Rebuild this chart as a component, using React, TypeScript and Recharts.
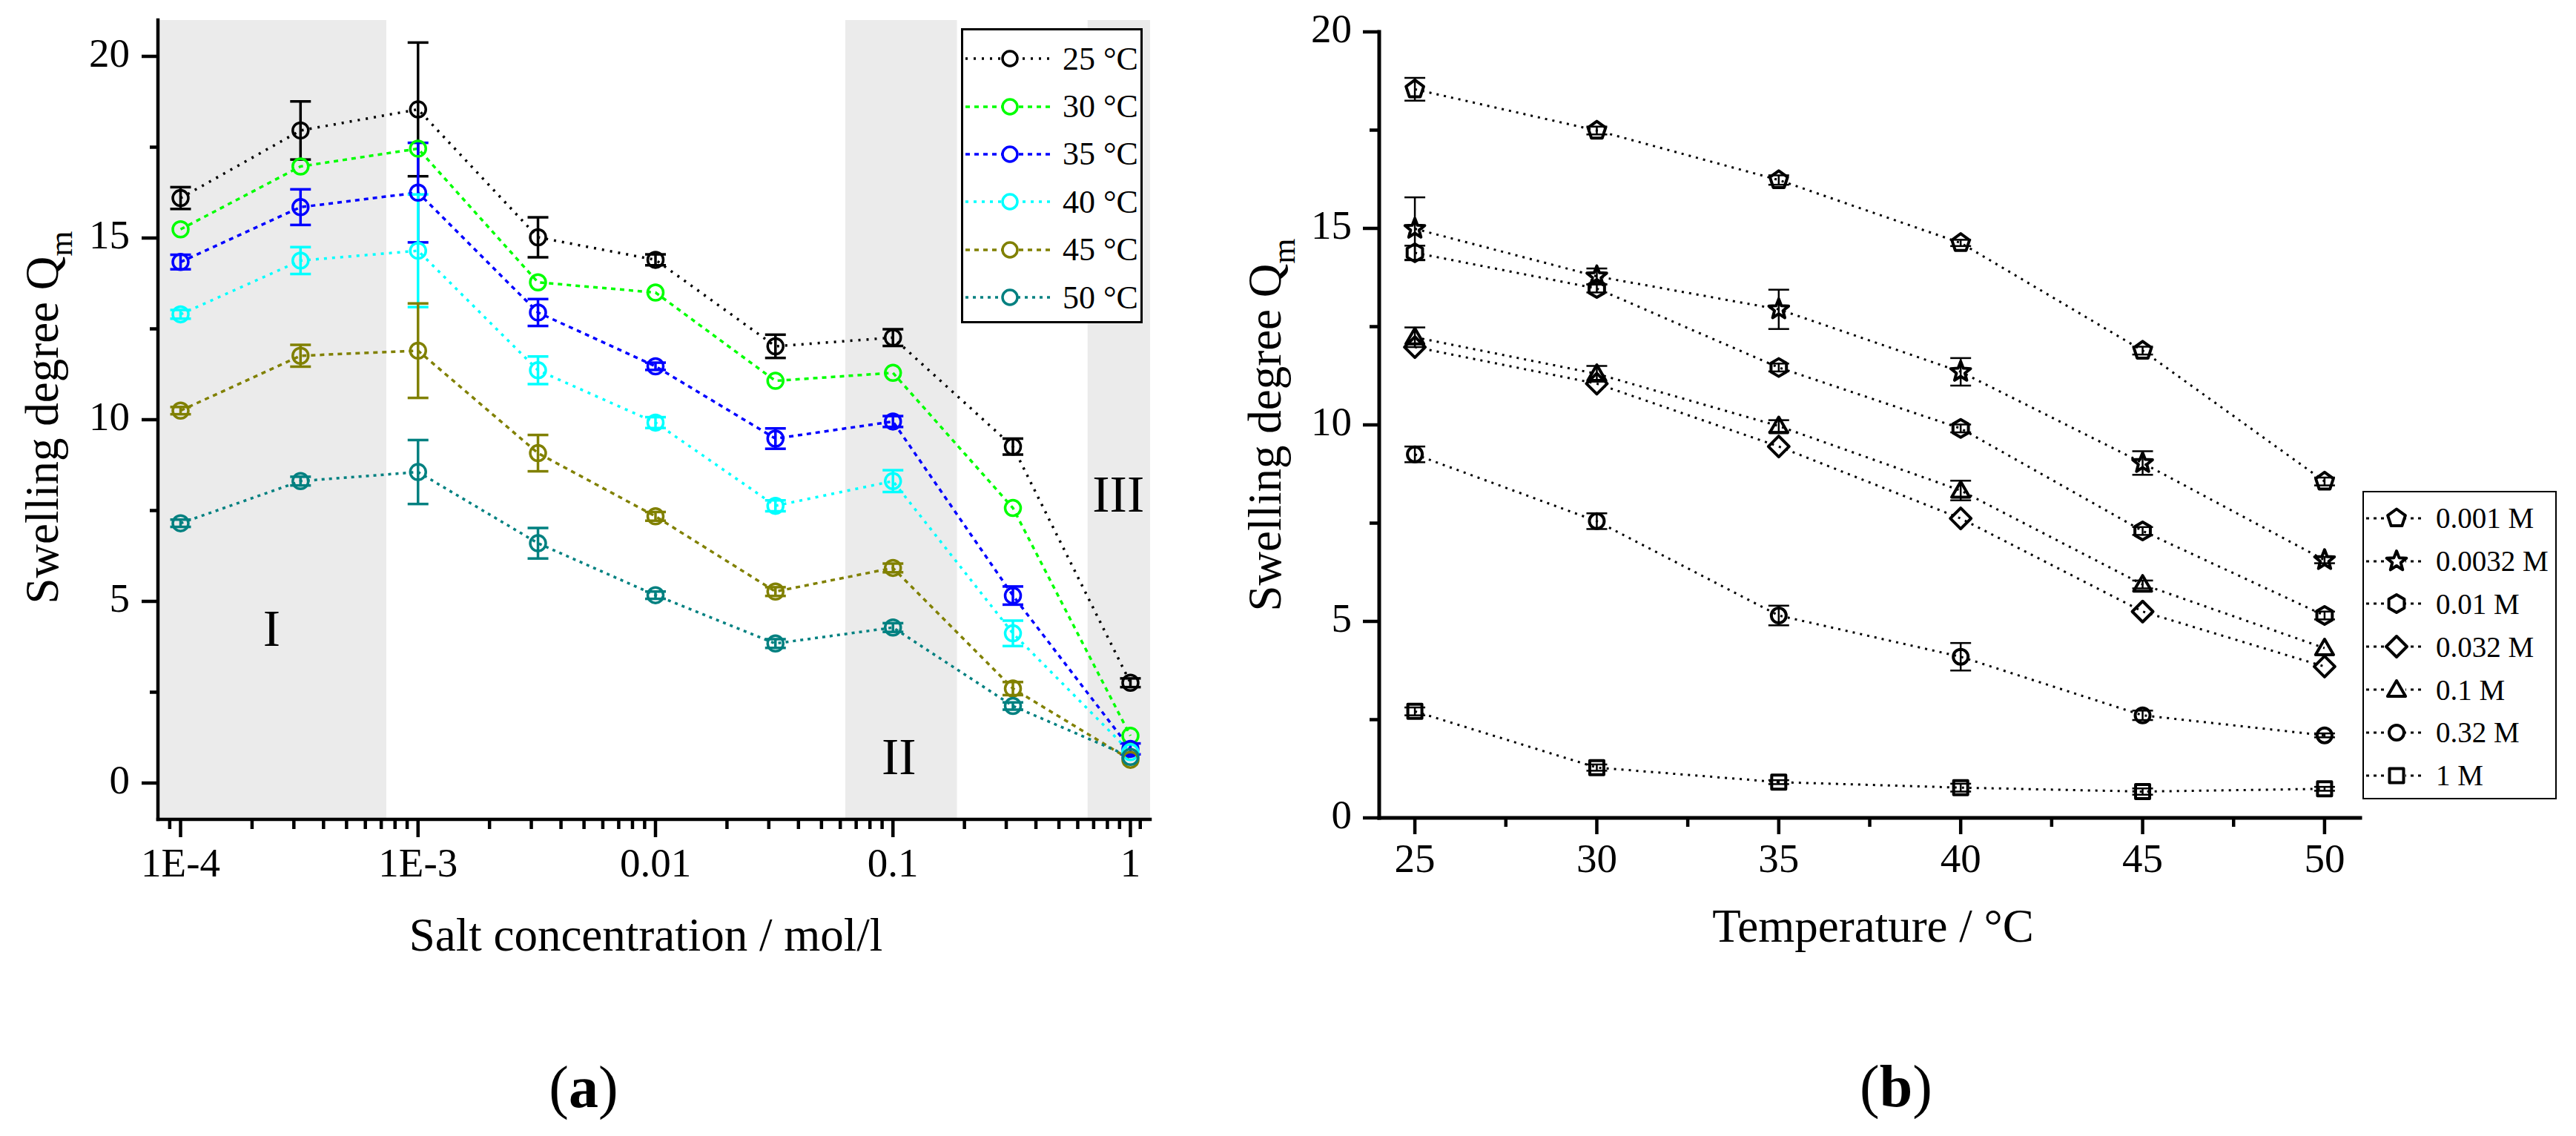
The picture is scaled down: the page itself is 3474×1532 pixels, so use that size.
import React from "react";
import {
  LineChart,
  Line,
  XAxis,
  YAxis,
  ErrorBar,
  ReferenceArea,
  ReferenceDot,
  Legend,
  Label,
} from "recharts";

const FONT = '"Liberation Serif", "Times New Roman", serif';

// ---------- (a) swelling degree vs salt concentration ----------
const concentrations = [1e-4, 3.2e-4, 1e-3, 3.2e-3, 0.01, 0.032, 0.1, 0.32, 1];

const q25 = [16.1, 17.96, 18.54, 15.02, 14.4, 12.02, 12.26, 9.26, 2.76];
const q30 = [15.24, 16.97, 17.46, 13.78, 13.5, 11.07, 11.29, 7.57, 1.3];
const q35 = [14.34, 15.85, 16.25, 12.95, 11.47, 9.48, 9.95, 5.16, 0.94];
const q40 = [12.9, 14.38, 14.65, 11.36, 9.92, 7.63, 8.31, 4.12, 0.85];
const q45 = [10.25, 11.76, 11.9, 9.08, 7.34, 5.27, 5.92, 2.6, 0.64];
const q50 = [7.15, 8.31, 8.56, 6.6, 5.17, 3.84, 4.28, 2.12, 0.72];

const e25 = [0.3, 0.8, 1.84, 0.55, 0.15, 0.32, 0.23, 0.22, 0.12];
const e30 = [null, null, null, null, null, null, null, null, null];
const e35 = [0.2, 0.49, 1.37, 0.37, 0.1, 0.28, 0.15, 0.25, 0.15];
const e40 = [0.12, 0.37, 1.55, 0.38, 0.15, 0.15, 0.3, 0.35, null];
const e45 = [0.1, 0.3, 1.3, 0.5, 0.12, 0.12, 0.12, 0.18, null];
const e50 = [0.1, 0.12, 0.88, 0.42, 0.1, 0.12, 0.12, 0.1, null];

const xMajorA = [1e-4, 1e-3, 0.01, 0.1, 1];
const xMajorLabelsA = ["1E-4", "1E-3", "0.01", "0.1", "1"];
const xMinorA = [
  9e-5,
  2e-4, 3e-4, 4e-4, 5e-4, 6e-4, 7e-4, 8e-4, 9e-4,
  2e-3, 3e-3, 4e-3, 5e-3, 6e-3, 7e-3, 8e-3, 9e-3,
  0.02, 0.03, 0.04, 0.05, 0.06, 0.07, 0.08, 0.09,
  0.2, 0.3, 0.4, 0.5, 0.6, 0.7, 0.8, 0.9,
  1.1,
];
const yMajorA = [0, 5, 10, 15, 20];
const yMinorA = [2.5, 7.5, 12.5, 17.5];

// shaded concentration regimes I, II, III
const regionsA = [
  { x1: 8.03e-5, x2: 7.35e-4 },
  { x1: 0.063, x2: 0.186 },
  { x1: 0.66, x2: 1.21 },
];
const romanA = [
  { text: "I", x: 2.42e-4, y: 4.29 },
  { text: "II", x: 0.106, y: 0.76 },
  { text: "III", x: 0.89, y: 7.98 },
];

const seriesA = [
  { key: "t25", name: "25 °C", color: "#000000", dash: "3 8", values: q25, errors: e25 },
  { key: "t30", name: "30 °C", color: "#00ff00", dash: "6 6", values: q30, errors: e30 },
  { key: "t35", name: "35 °C", color: "#0000ff", dash: "6 6", values: q35, errors: e35 },
  { key: "t40", name: "40 °C", color: "#00ffff", dash: "4 7", values: q40, errors: e40 },
  { key: "t45", name: "45 °C", color: "#808000", dash: "6 6", values: q45, errors: e45 },
  { key: "t50", name: "50 °C", color: "#008080", dash: "4 6", values: q50, errors: e50 },
];

const dataA = concentrations.map((c, i) => {
  const row: any = { c };
  seriesA.forEach((s) => {
    row[s.key] = s.values[i];
    row[s.key + "e"] = s.errors[i];
  });
  return row;
});

// ---------- (b) swelling degree vs temperature ----------
const temperatures = [25, 30, 35, 40, 45, 50];

const m0001 = [18.54, 17.49, 16.23, 14.63, 11.89, 8.56];
const m00032 = [14.99, 13.78, 12.94, 11.35, 9.03, 6.56];
const m001 = [14.38, 13.47, 11.46, 9.91, 7.3, 5.15];
const m0032 = [11.98, 11.05, 9.45, 7.62, 5.25, 3.85];
const m01 = [12.23, 11.3, 9.97, 8.33, 5.94, 4.32];
const m032 = [9.25, 7.55, 5.15, 4.1, 2.61, 2.1];
const m1 = [2.71, 1.28, 0.91, 0.77, 0.67, 0.74];

const s0001 = [0.29, 0.1, 0.12, 0.08, 0.1, 0.1];
const s00032 = [0.8, 0.2, 0.5, 0.35, 0.3, 0.08];
const s001 = [0.18, 0.1, 0.1, 0.1, 0.1, 0.1];
const s0032 = [null, null, null, null, null, null];
const s01 = [0.25, 0.2, 0.15, 0.25, 0.1, null];
const s032 = [0.2, 0.2, 0.25, 0.35, 0.12, 0.05];
const s1 = [0.1, 0.08, 0.05, 0.1, 0.08, 0.05];

const xMajorB = [25, 30, 35, 40, 45, 50];
const xMinorB = [27.5, 32.5, 37.5, 42.5, 47.5];
const yMajorB = [0, 5, 10, 15, 20];
const yMinorB = [2.5, 7.5, 12.5, 17.5];

const seriesB = [
  { key: "c1", name: "0.001 M", shape: "pentagon", values: m0001, errors: s0001 },
  { key: "c2", name: "0.0032 M", shape: "star", values: m00032, errors: s00032 },
  { key: "c3", name: "0.01 M", shape: "hexagon", values: m001, errors: s001 },
  { key: "c4", name: "0.032 M", shape: "diamond", values: m0032, errors: s0032 },
  { key: "c5", name: "0.1 M", shape: "triangle", values: m01, errors: s01 },
  { key: "c6", name: "0.32 M", shape: "circle", values: m032, errors: s032 },
  { key: "c7", name: "1 M", shape: "square", values: m1, errors: s1 },
];

const dataB = temperatures.map((t, i) => {
  const row: any = { t };
  seriesB.forEach((s) => {
    row[s.key] = s.values[i];
    row[s.key + "e"] = s.errors[i];
  });
  return row;
});

// ---------- helpers ----------
const majorIndex = (v: number, majors: number[]) =>
  majors.findIndex((m) => Math.abs(v - m) <= Math.abs(m) * 1e-6 + 1e-9);

const makeXTick =
  (majors: number[], labels: string[], lenMajor: number, lenMinor: number, labelDy: number) =>
  (props: any) => {
    const { x, y, payload, index } = props;
    const i = majorIndex(payload.value, majors);
    return (
      <g key={`xt-${index}`}>
        <line x1={x} x2={x} y1={y} y2={y + (i >= 0 ? lenMajor : lenMinor)} stroke="#000" strokeWidth={4.5} />
        {i >= 0 && (
          <text x={x} y={y + labelDy} textAnchor="middle" fontFamily={FONT} fontSize={55} fill="#000">
            {labels[i]}
          </text>
        )}
      </g>
    );
  };

const makeYTick =
  (majors: number[], lenMajor: number, lenMinor: number, gap: number) => (props: any) => {
    const { x, y, payload, index } = props;
    const i = majorIndex(payload.value, majors);
    return (
      <g key={`yt-${index}`}>
        <line x1={x - (i >= 0 ? lenMajor : lenMinor)} x2={x} y1={y} y2={y} stroke="#000" strokeWidth={4.5} />
        {i >= 0 && (
          <text x={x - gap} y={y + 14} textAnchor="end" fontFamily={FONT} fontSize={55} fill="#000">
            {String(majors[i])}
          </text>
        )}
      </g>
    );
  };

const polygon = (cx: number, cy: number, n: number, r: number, rot: number) =>
  Array.from({ length: n }, (_, k) => {
    const a = rot + (2 * Math.PI * k) / n;
    return `${cx + r * Math.cos(a)},${cy + r * Math.sin(a)}`;
  }).join(" ");

const star = (cx: number, cy: number, ro: number, ri: number) =>
  Array.from({ length: 10 }, (_, k) => {
    const a = -Math.PI / 2 + (Math.PI * k) / 5;
    const r = k % 2 === 0 ? ro : ri;
    return `${cx + r * Math.cos(a)},${cy + r * Math.sin(a)}`;
  }).join(" ");

const Marker = ({ cx, cy, shape }: { cx: number; cy: number; shape: string }) => {
  const common = { fill: "none", stroke: "#000", strokeWidth: 4, strokeLinejoin: "round" as const };
  if (cx == null || cy == null || isNaN(cx) || isNaN(cy)) return null;
  switch (shape) {
    case "circle":
      return <circle cx={cx} cy={cy} r={10} {...common} />;
    case "square":
      return <rect x={cx - 9.5} y={cy - 9.5} width={19} height={19} {...common} />;
    case "pentagon":
      return <polygon points={polygon(cx, cy, 5, 12.5, -Math.PI / 2)} {...common} />;
    case "hexagon":
      return <polygon points={polygon(cx, cy, 6, 12, -Math.PI / 2)} {...common} />;
    case "diamond":
      return <polygon points={polygon(cx, cy, 4, 14, -Math.PI / 2)} {...common} />;
    case "triangle":
      return <polygon points={polygon(cx, cy + 2, 3, 14, -Math.PI / 2)} {...common} />;
    case "star":
      return <polygon points={star(cx, cy, 14, 6)} {...common} />;
    default:
      return null;
  }
};

const LegendA = (props: any) => (
  <div
    style={{
      width: 245,
      height: 398,
      boxSizing: "border-box",
      border: "3px solid #000",
      background: "#fff",
      paddingTop: 6,
    }}
  >
    {(props.payload || []).map((entry: any) => {
      const s = seriesA.find((d) => d.name === entry.value) || seriesA[0];
      return (
        <div key={s.key} style={{ height: 64.4, display: "flex", alignItems: "center" }}>
          <svg width={134} height={40} style={{ display: "block" }}>
            <line x1={3} x2={119} y1={20} y2={20} stroke={s.color} strokeWidth={3.5} strokeDasharray={s.dash} />
            <circle cx={63} cy={20} r={10} fill="#fff" stroke={s.color} strokeWidth={3.5} />
          </svg>
          <span style={{ fontFamily: FONT, fontSize: 44, color: "#000", whiteSpace: "nowrap" }}>{s.name}</span>
        </div>
      );
    })}
  </div>
);

const LegendB = (props: any) => (
  <div
    style={{
      width: 262,
      height: 416,
      boxSizing: "border-box",
      border: "2.5px solid #000",
      background: "#fff",
      paddingTop: 6,
    }}
  >
    {(props.payload || []).map((entry: any) => {
      const s = seriesB.find((d) => d.name === entry.value) || seriesB[0];
      return (
        <div key={s.key} style={{ height: 57.8, display: "flex", alignItems: "center" }}>
          <svg width={97} height={40} style={{ display: "block" }}>
            <line x1={3} x2={81} y1={20} y2={20} stroke="#000" strokeWidth={3} strokeDasharray="4 6" />
            <rect x={32} y={6} width={24} height={28} fill="#fff" />
            <Marker cx={44} cy={20} shape={s.shape} />
          </svg>
          <span style={{ fontFamily: FONT, fontSize: 39, color: "#000", whiteSpace: "nowrap" }}>{s.name}</span>
        </div>
      );
    })}
  </div>
);

const yTitle = (x: number, y: number) => () =>
  (
    <text x={x} y={y} transform={`rotate(-90 ${x} ${y})`} textAnchor="middle" fontFamily={FONT} fontSize={63} fill="#000">
      Swelling degree Q
      <tspan fontSize={44} dy={19}>
        m
      </tspan>
    </text>
  );

const plainText = (x: number, y: number, value: string) => () =>
  (
    <text x={x} y={y} textAnchor="middle" fontFamily={FONT} fontSize={63} fill="#000">
      {value}
    </text>
  );

const panelTag = (x: number, y: number, letter: string) => () =>
  (
    <text x={x} y={y} textAnchor="middle" fontFamily={FONT} fontSize={80} fill="#000">
      (<tspan fontWeight="bold">{letter}</tspan>)
    </text>
  );

const axisStrokeA = { stroke: "#000", strokeWidth: 4.5, strokeLinecap: "square" as const };
const axisStrokeB = { stroke: "#000", strokeWidth: 5, strokeLinecap: "square" as const };

const PanelA = () => (
  <LineChart width={1620} height={1532} data={dataA} margin={{ top: 27, right: 69, bottom: 327, left: 0 }}>
    {regionsA.map((r, i) => (
      <ReferenceArea key={`reg-${i}`} x1={r.x1} x2={r.x2} fill="#ebebeb" fillOpacity={1} stroke="none" ifOverflow="hidden" />
    ))}
    <XAxis
      dataKey="c"
      type="number"
      scale="log"
      domain={[8.03e-5, 1.21]}
      allowDataOverflow
      ticks={[...xMajorA, ...xMinorA]}
      interval={0}
      height={100}
      tickSize={0}
      tickMargin={0}
      tickLine={false}
      axisLine={axisStrokeA}
      tick={makeXTick(xMajorA, xMajorLabelsA, 24, 13, 77)}
    >
      <Label content={plainText(871, 1282, "Salt concentration / mol/l")} />
      <Label content={panelTag(787, 1493, "a")} />
    </XAxis>
    <XAxis xAxisId="top" orientation="top" type="number" scale="log" domain={[8.03e-5, 1.21]} allowDataOverflow height={0} tick={false} tickLine={false} axisLine={axisStrokeA} />
    <YAxis
      type="number"
      domain={[-1, 21]}
      allowDataOverflow
      ticks={[...yMajorA, ...yMinorA]}
      interval={0}
      width={213}
      tickSize={0}
      tickMargin={0}
      tickLine={false}
      axisLine={axisStrokeA}
      tick={makeYTick(yMajorA, 22, 11, 38)}
    >
      <Label content={yTitle(78, 563)} />
    </YAxis>
    <YAxis yAxisId="right" orientation="right" type="number" domain={[-1, 21]} allowDataOverflow width={0} tick={false} tickLine={false} axisLine={axisStrokeA} />
    {seriesA.map((s) => (
      <Line
        key={s.key}
        dataKey={s.key}
        name={s.name}
        stroke={s.color}
        strokeWidth={3.5}
        strokeDasharray={s.dash}
        dot={(p: any) =>
          p.cx == null || p.cy == null ? (
            <g key={`${s.key}-${p.index}`} />
          ) : (
            <circle key={`${s.key}-${p.index}`} cx={p.cx} cy={p.cy} r={10.5} fill="none" stroke={s.color} strokeWidth={3.5} />
          )
        }
        activeDot={false}
        isAnimationActive={false}
      >
        <ErrorBar dataKey={s.key + "e"} width={14} stroke={s.color} strokeWidth={3.5} direction="y" />
      </Line>
    ))}
    {romanA.map((r) => (
      <ReferenceDot
        key={r.text}
        x={r.x}
        y={r.y}
        r={1}
        fill="none"
        stroke="none"
        label={{ value: r.text, position: "center", fontSize: 70, fontFamily: FONT, fill: "#000" }}
      />
    ))}
    <Legend
      layout="vertical"
      align="center"
      verticalAlign="middle"
      content={<LegendA />}
      wrapperStyle={{ left: 1296, top: 38, width: 245 }}
    />
  </LineChart>
);

const PanelB = () => (
  <LineChart width={1854} height={1532} data={dataB} margin={{ top: 43, right: 291, bottom: 329, left: 0 }}>
    <XAxis
      dataKey="t"
      type="number"
      domain={[24.02, 50.98]}
      allowDataOverflow
      ticks={[...xMajorB, ...xMinorB]}
      interval={0}
      height={100}
      tickSize={0}
      tickMargin={0}
      tickLine={false}
      axisLine={axisStrokeB}
      tick={makeXTick(xMajorB, xMajorB.map(String), 22, 12, 73)}
    >
      <Label content={plainText(906, 1270, "Temperature / °C")} />
      <Label content={panelTag(937, 1492, "b")} />
    </XAxis>
    <XAxis xAxisId="top" orientation="top" type="number" domain={[24.02, 50.98]} allowDataOverflow height={0} tick={false} tickLine={false} axisLine={axisStrokeB} />
    <YAxis
      type="number"
      domain={[0, 20]}
      allowDataOverflow
      ticks={[...yMajorB, ...yMinorB]}
      interval={0}
      width={240}
      tickSize={0}
      tickMargin={0}
      tickLine={false}
      axisLine={axisStrokeB}
      tick={makeYTick(yMajorB, 22, 13, 37)}
    >
      <Label content={yTitle(107, 573)} />
    </YAxis>
    <YAxis yAxisId="right" orientation="right" type="number" domain={[0, 20]} allowDataOverflow width={0} tick={false} tickLine={false} axisLine={axisStrokeB} />
    {seriesB.map((s) => (
      <Line
        key={s.key}
        dataKey={s.key}
        name={s.name}
        stroke="#000"
        strokeWidth={3}
        strokeDasharray="3 7"
        dot={(p: any) => (
          <g key={`${s.key}-${p.index}`}>
            <Marker cx={p.cx} cy={p.cy} shape={s.shape} />
          </g>
        )}
        activeDot={false}
        isAnimationActive={false}
      >
        <ErrorBar dataKey={s.key + "e"} width={14} stroke="#000" strokeWidth={2.5} direction="y" />
      </Line>
    ))}
    <Legend
      layout="vertical"
      align="center"
      verticalAlign="middle"
      content={<LegendB />}
      wrapperStyle={{ left: 1566, top: 662, width: 262 }}
    />
  </LineChart>
);

export default function App() {
  return (
    <div style={{ position: "absolute", left: 0, top: 0, width: 3474, height: 1532, background: "#fff" }}>
      <div style={{ position: "absolute", left: 0, top: 0 }}>
        <PanelA />
      </div>
      <div style={{ position: "absolute", left: 1620, top: 0 }}>
        <PanelB />
      </div>
    </div>
  );
}
